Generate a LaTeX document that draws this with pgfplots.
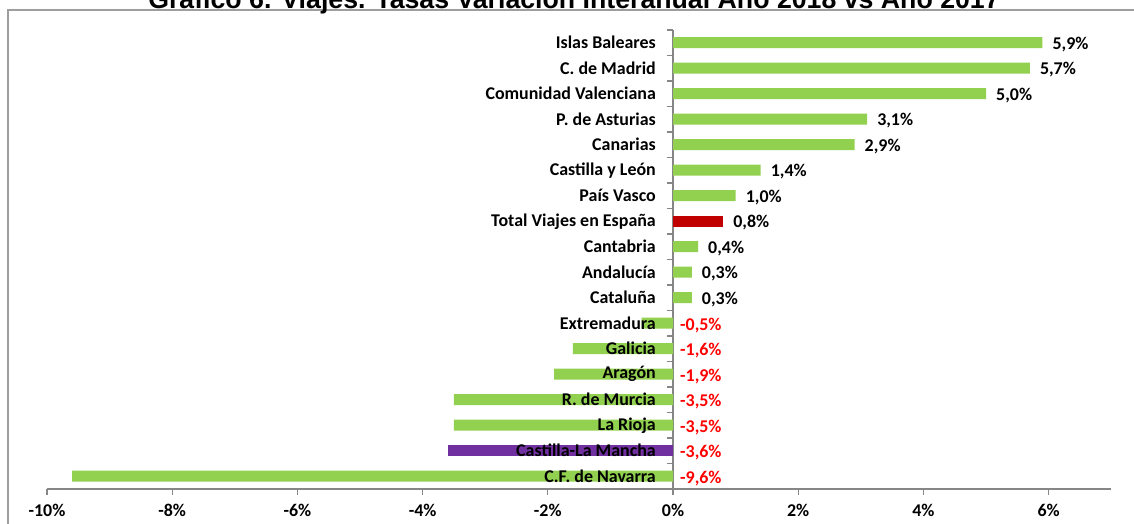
\documentclass[border=0pt]{standalone}
\usepackage{pgfplots}
\pgfplotsset{compat=1.18}
\usepackage{pgfplotstable}
\usepackage{fontspec}
\setmainfont{Carlito}
\newfontfamily\titlefont{Liberation Sans}
\definecolor{barg}{HTML}{92D050}
\definecolor{barr}{HTML}{C00000}
\definecolor{barp}{HTML}{7030A0}
\definecolor{axg}{HTML}{868686}
\definecolor{negred}{HTML}{FF0000}

\pgfplotstableread[col sep=semicolon]{
y;val;pos;name;lab
17;5.9;5.9;Islas Baleares;5,9
16;5.7;5.7;C. de Madrid;5,7
15;5.0;5.0;Comunidad Valenciana;5,0
14;3.1;3.1;P. de Asturias;3,1
13;2.9;2.9;Canarias;2,9
12;1.4;1.4;Castilla y León;1,4
11;1.0;1.0;País Vasco;1,0
10;0.8;0.8;Total Viajes en España;0,8
9;0.4;0.4;Cantabria;0,4
8;0.3;0.3;Andalucía;0,3
7;0.3;0.3;Cataluña;0,3
}\postab

\pgfplotstableread[col sep=semicolon]{
y;val;pos;name;lab
6;-0.5;0;Extremadura;-0,5
5;-1.6;0;Galicia;-1,6
4;-1.9;0;Aragón;-1,9
3;-3.5;0;R. de Murcia;-3,5
2;-3.5;0;La Rioja;-3,5
1;-3.6;0;Castilla-La Mancha;-3,6
0;-9.6;0;C.F. de Navarra;-9,6
}\negtab

\begin{document}
\begin{tikzpicture}
\path[use as bounding box] (0,0) rectangle (1134bp,524bp);
\draw[axg!80, line width=1.3bp] (8bp,-5bp) -- (8bp,514bp) -- (1140bp,514bp);
\node[anchor=base, font=\titlefont\bfseries\fontsize{26.8}{30}\selectfont] at (574bp,515bp)
  {Gráfico 6. Viajes. Tasas Variación Interanual Año 2018 vs Año 2017};
\begin{axis}[
  at={(47bp,35bp)}, anchor=south west,
  scale only axis, width=1064.2bp, height=459bp,
  xmin=-10, xmax=7, ymin=-0.5, ymax=17.5,
  axis x line*=bottom, axis y line*=middle,
  axis line style={axg, line width=1.1bp},
  xtick={-10,-8,...,6},
  xticklabels={-10\%,-8\%,-6\%,-4\%,-2\%,0\%,2\%,4\%,6\%},
  xticklabel style={font=\bfseries\fontsize{18}{20}\selectfont, yshift=-6bp},
  ytick={-0.5,0.5,...,17.5},
  yticklabels={},
  tick align=outside,
  major tick length=6bp,
  tick style={axg, line width=1.1bp},
  clip=false,
]
% green bars
\addplot[xbar, bar width=11bp, bar shift=0pt, fill=barg, draw=none] coordinates {
  (5.9,17) (5.7,16) (5.0,15) (3.1,14) (2.9,13) (1.4,12) (1.0,11)
  (0.4,9) (0.3,8) (0.3,7) (-0.5,6) (-1.6,5) (-1.9,4) (-3.5,3) (-3.5,2) (-9.6,0)};
\addplot[xbar, bar width=11bp, bar shift=0pt, fill=barr, draw=none] coordinates {(0.8,10)};
\addplot[xbar, bar width=11bp, bar shift=0pt, fill=barp, draw=none] coordinates {(-3.6,1)};
% category names
\addplot[draw=none, mark=none, point meta=explicit symbolic,
  nodes near coords={\pgfplotspointmeta},
  every node near coord/.append style={anchor=east, xshift=-17bp, inner sep=0pt,
    font=\bfseries\fontsize{18}{20}\selectfont, text=black}]
  table[x expr=0, y=y, meta=name] {\postab};
\addplot[draw=none, mark=none, point meta=explicit symbolic,
  nodes near coords={\pgfplotspointmeta},
  every node near coord/.append style={anchor=east, xshift=-17bp, inner sep=0pt,
    font=\bfseries\fontsize{18}{20}\selectfont, text=black}]
  table[x expr=0, y=y, meta=name] {\negtab};
% value labels
\addplot[draw=none, mark=none, point meta=explicit symbolic,
  nodes near coords={\pgfplotspointmeta\%},
  every node near coord/.append style={anchor=west, xshift=10bp, yshift=-1.5bp, inner sep=0pt,
    font=\bfseries\fontsize{18}{20}\selectfont, text=black}]
  table[x=pos, y=y, meta=lab] {\postab};
\addplot[draw=none, mark=none, point meta=explicit symbolic,
  nodes near coords={\pgfplotspointmeta\%},
  every node near coord/.append style={anchor=west, xshift=7bp, yshift=-2bp, inner sep=0pt,
    font=\bfseries\fontsize{18}{20}\selectfont, text=negred}]
  table[x=pos, y=y, meta=lab] {\negtab};
\end{axis}
\end{tikzpicture}
\end{document}
